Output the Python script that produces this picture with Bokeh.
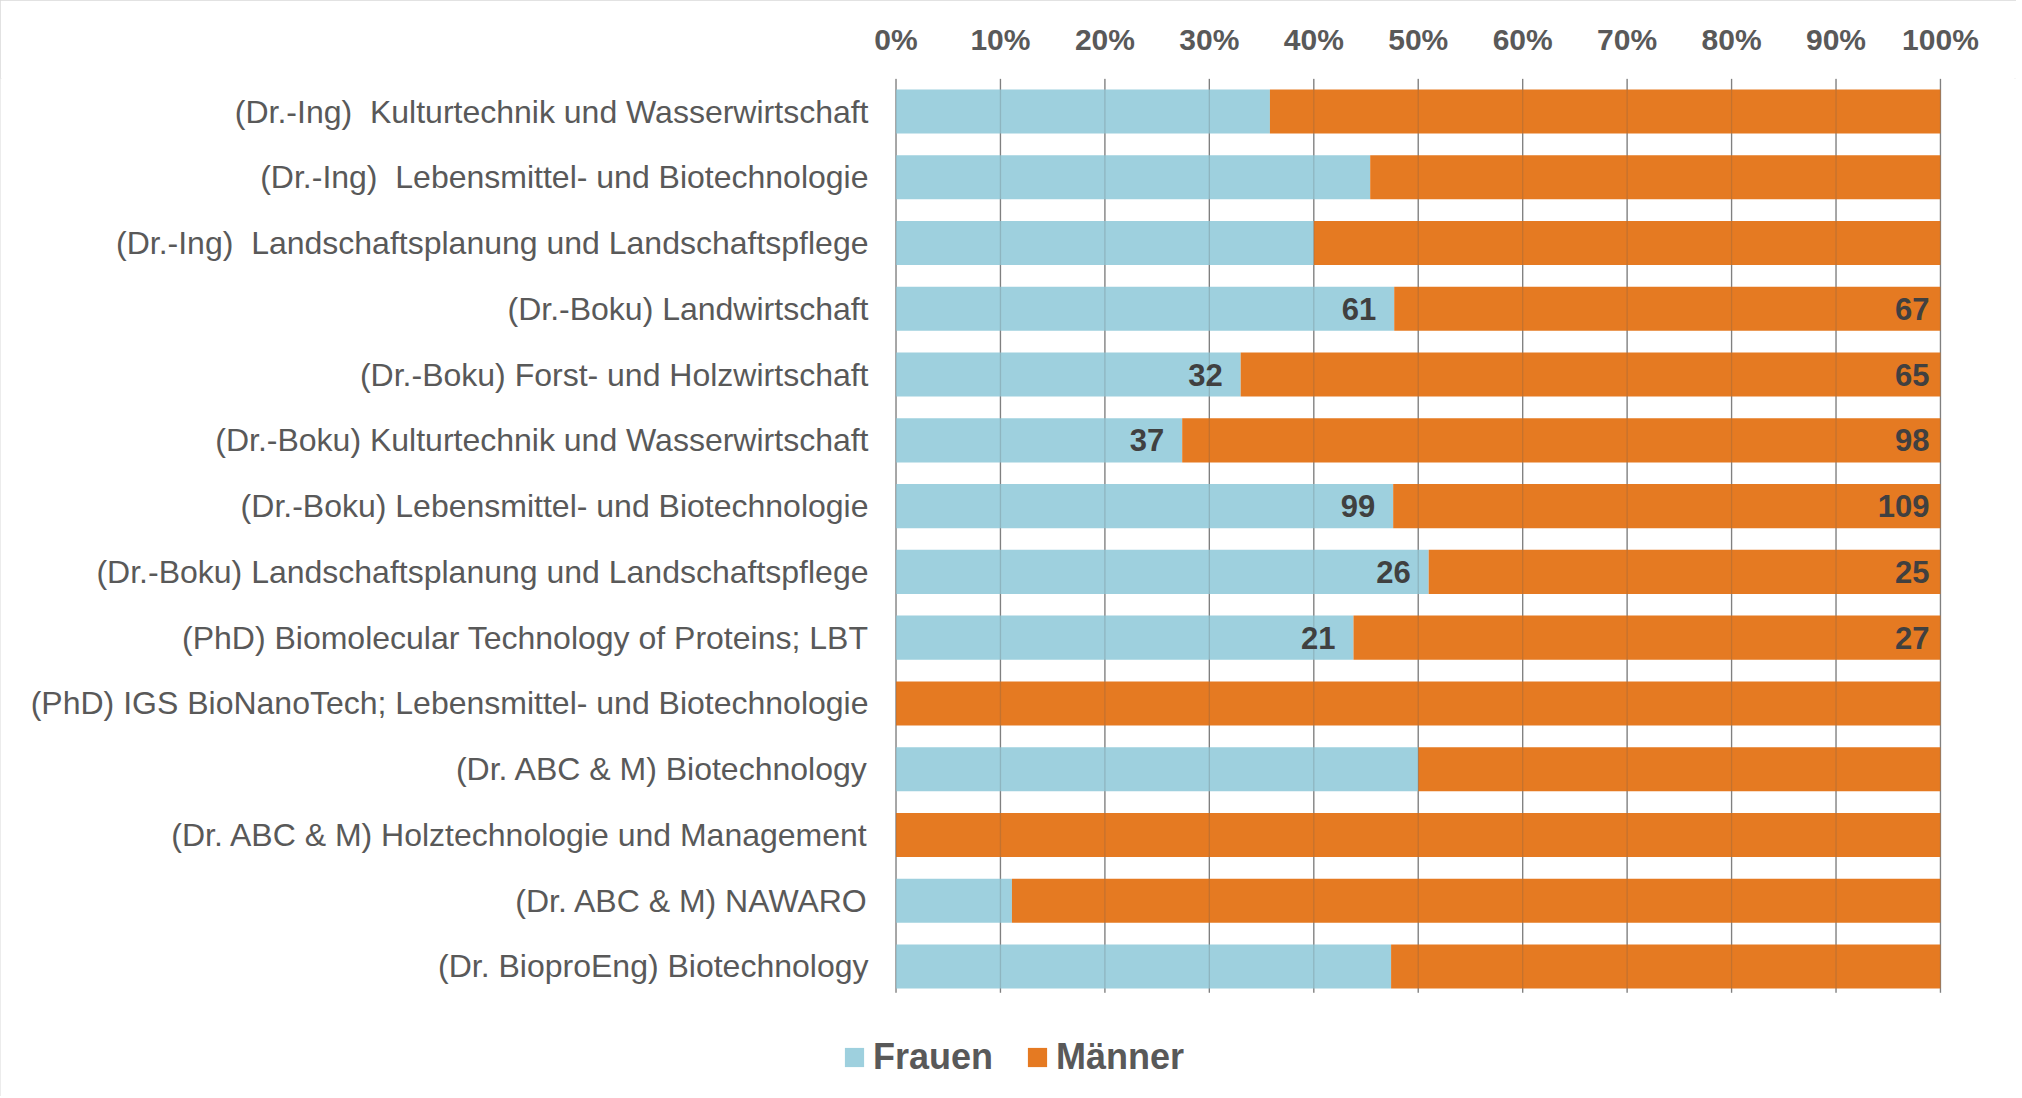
from bokeh.plotting import figure
from bokeh.models import (ColumnDataSource, Range1d, FixedTicker,
                          Legend, LegendItem, LinearAxis)
from bokeh.core.properties import value
from bokeh.embed import file_html
from bokeh.resources import INLINE

# ---------------- data ----------------
categories = [
    "(Dr.-Ing) \u00a0Kulturtechnik und Wasserwirtschaft",
    "(Dr.-Ing) \u00a0Lebensmittel- und Biotechnologie",
    "(Dr.-Ing) \u00a0Landschaftsplanung und Landschaftspflege",
    "(Dr.-Boku) Landwirtschaft",
    "(Dr.-Boku) Forst- und Holzwirtschaft",
    "(Dr.-Boku) Kulturtechnik und Wasserwirtschaft",
    "(Dr.-Boku) Lebensmittel- und Biotechnologie",
    "(Dr.-Boku) Landschaftsplanung und Landschaftspflege",
    "(PhD) Biomolecular Technology of Proteins; LBT",
    "(PhD) IGS BioNanoTech; Lebensmittel- und Biotechnologie",
    "(Dr. ABC & M) Biotechnology",
    "(Dr. ABC & M) Holztechnologie und Management",
    "(Dr. ABC & M) NAWARO",
    "(Dr. BioproEng) Biotechnology",
]
# share of women in percent
frauen_pct = [35.8, 45.4, 40.0, 47.7, 33.0, 27.4, 47.6, 51.0, 43.8, 0.0, 50.0, 0.0, 11.1, 47.4]
# data labels shown in the chart (counts), blank where none
frauen_labels = ["", "", "", "61", "32", "37", "99", "26", "21", "", "", "", "", ""]
maenner_labels = ["", "", "", "67", "65", "98", "109", "25", "27", "", "", "", "", ""]
series_names = ["Frauen", "Männer"]
tick_values = [0, 10, 20, 30, 40, 50, 60, 70, 80, 90, 100]
tick_labels = ["0%", "10%", "20%", "30%", "40%", "50%", "60%", "70%", "80%", "90%", "100%"]

BLUE = "#9ED0DE"
ORANGE = "#E57A22"
TEXT = "#595959"
LABEL = "#404040"
GRID = "#8C8C8C"
FONT = "Liberation Sans"

n = len(categories)
pos = list(range(n))  # row index, first category on top
src = ColumnDataSource(dict(
    y=pos,
    cat=categories,
    f=frauen_pct,
    zero=[0.0] * n,
    tot=[100.0] * n,
    fl=frauen_labels,
    ml=maenner_labels,
))

W, H = 2016, 1096
p = figure(
    width=W, height=H,
    x_range=Range1d(-85.74, 107.28),
    y_range=Range1d(14.977, -0.502),
    x_axis_location=None, y_axis_location=None,
    output_backend="svg", toolbar_location=None,
    min_border_left=0, min_border_right=0, min_border_top=78, min_border_bottom=0,
)
p.outline_line_color = None
p.background_fill_color = "white"
p.border_fill_color = "white"
p.styles = {"outline": "2px solid #D9D9D9", "outline-offset": "-2px"}
p.xgrid.grid_line_color = None
p.ygrid.grid_line_color = None

# top percentage axis
xa = LinearAxis(ticker=FixedTicker(ticks=tick_values))
xa.major_label_overrides = {v: l for v, l in zip(tick_values, tick_labels)}
xa.axis_line_color = None
xa.major_tick_line_color = None
xa.minor_tick_line_color = None
xa.major_label_text_font = FONT
xa.major_label_text_font_style = "bold"
xa.major_label_text_font_size = "30px"
xa.major_label_text_color = TEXT
xa.major_label_standoff = 17
p.add_layout(xa, "above")

# vertical gridlines at the tick values, spanning the category rows
grid_src = ColumnDataSource(dict(
    x=tick_values,
    y0=[-0.5] * len(tick_values),
    y1=[n - 0.6] * len(tick_values),
))
p.segment(x0="x", x1="x", y0="y0", y1="y1", source=grid_src,
          line_color=GRID, line_width=1.3)

r_f = p.hbar(y="y", left="zero", right="f", height=0.67, source=src,
             fill_color=BLUE, line_color=None)
r_m = p.hbar(y="y", left="f", right="tot", height=0.67, source=src,
             fill_color=ORANGE, line_color=None)

# gridlines faintly visible through the bars
p.segment(x0="x", x1="x", y0="y0", y1="y1", source=grid_src,
          line_color="#555555", line_alpha=0.22, line_width=1.3)

# category labels
p.text(x="zero", y="y", text="cat", source=src, x_offset=-27.5,
       text_align="right", text_baseline="middle",
       text_font=value(FONT), text_font_size="32px", text_color=TEXT)

# data labels
p.text(x="f", y="y", text="fl", source=src, x_offset=-18,
       text_align="right", text_baseline="middle",
       text_font=value(FONT), text_font_style="bold",
       text_font_size="31px", text_color=LABEL)
p.text(x="tot", y="y", text="ml", source=src, x_offset=-11,
       text_align="right", text_baseline="middle",
       text_font=value(FONT), text_font_style="bold",
       text_font_size="31px", text_color=LABEL)

legend = Legend(
    items=[LegendItem(label=series_names[0], renderers=[r_f]),
           LegendItem(label=series_names[1], renderers=[r_m])],
    orientation="horizontal",
    location=(842, 18),
    glyph_width=24, glyph_height=24,
    label_standoff=7, spacing=32,
    padding=0, margin=0,
    border_line_color=None, background_fill_alpha=0,
    label_text_font=FONT, label_text_font_style="bold",
    label_text_font_size="36px", label_text_color=TEXT,
)
p.add_layout(legend, "center")

open("out.html", "w").write(file_html(p, INLINE))
